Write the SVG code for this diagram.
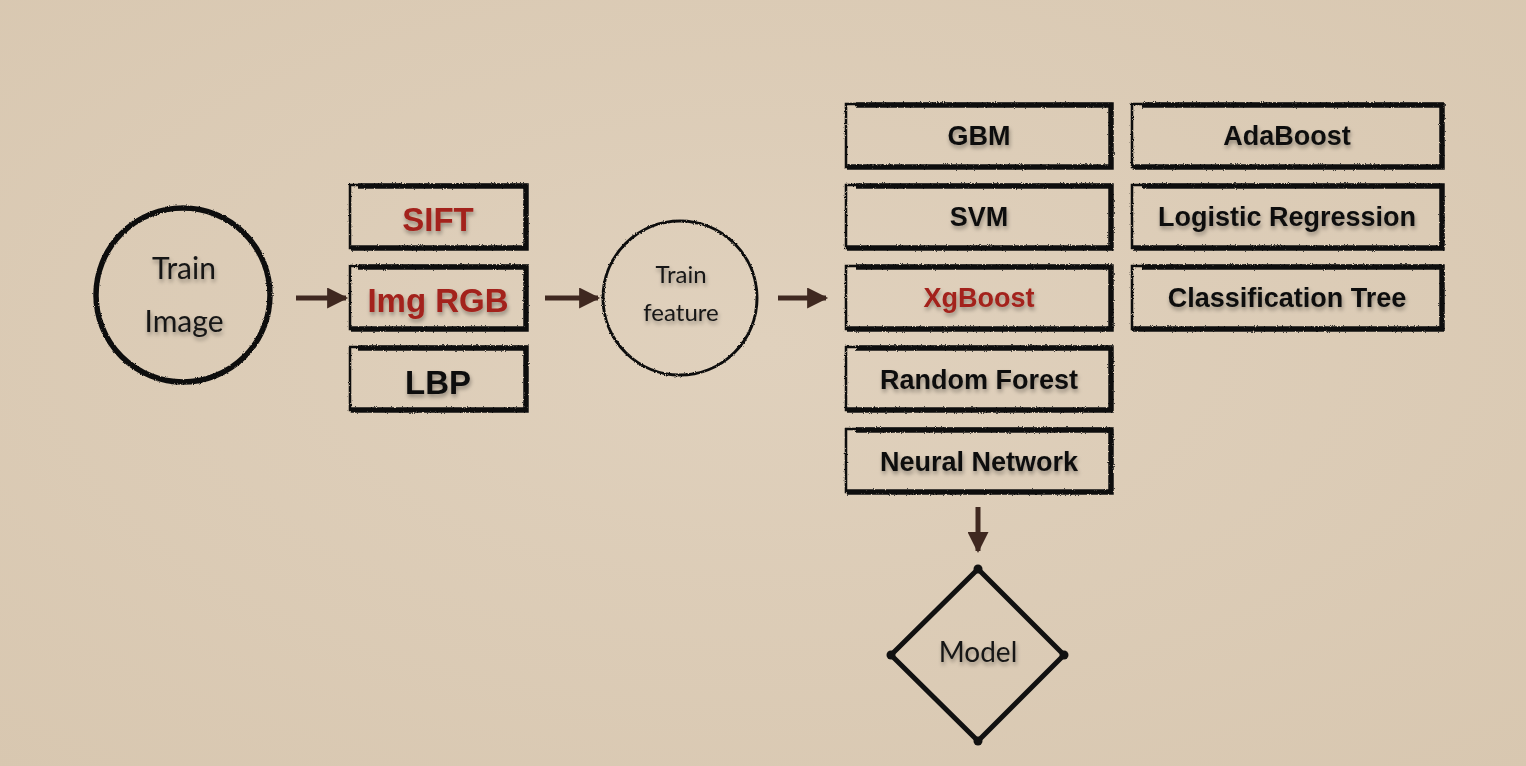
<svg xmlns="http://www.w3.org/2000/svg" width="1526" height="766" viewBox="0 0 1526 766">
<defs>
<filter id="sh" x="-20%" y="-40%" width="140%" height="180%">
<feGaussianBlur in="SourceAlpha" stdDeviation="2"/>
<feOffset dx="1" dy="3" result="b"/>
<feComponentTransfer><feFuncA type="linear" slope="0.35"/></feComponentTransfer>
<feMerge><feMergeNode/><feMergeNode in="SourceGraphic"/></feMerge>
</filter>
<filter id="rough" x="-5%" y="-5%" width="110%" height="110%">
<feTurbulence type="fractalNoise" baseFrequency="0.9" numOctaves="2" seed="3"/>
<feDisplacementMap in="SourceGraphic" scale="2.5" xChannelSelector="R" yChannelSelector="G"/>
</filter>
<radialGradient id="bg" cx="50%" cy="45%" r="75%">
<stop offset="0" stop-color="#e0d1bd"/>
<stop offset="1" stop-color="#d8c7b0"/>
</radialGradient>
<marker id="ah" viewBox="0 0 10 10" refX="9" refY="5" markerWidth="4.4" markerHeight="4.2" orient="auto" markerUnits="strokeWidth">
<path d="M0,0 L10,5 L0,10 z" fill="#3f2820"/>
</marker>
</defs>
<style>
.box{fill:none;stroke:#111;stroke-width:2.5;filter:url(#rough)}
.edge{fill:none;stroke:#0d0d0d;stroke-width:5.5;filter:url(#rough)}
.lbl{font-family:"Liberation Sans",Arial,sans-serif;font-weight:bold;font-size:27px;text-anchor:middle;fill:#111;filter:url(#sh)}
.big{font-size:33px}
.red{fill:#a3221b}
.hand{font-family:Lato,"Open Sans",sans-serif;font-weight:400;text-anchor:middle;fill:#161616;filter:url(#sh)}
.conn{stroke:#3f2820;stroke-width:5;fill:none;marker-end:url(#ah)}
</style>
<rect width="1526" height="766" fill="url(#bg)"/>

<g id="train-image">
<circle cx="183" cy="295" r="87" fill="none" stroke="#111" stroke-width="5.5" filter="url(#rough)"/>
<text class="hand" x="184" y="279" font-size="30">Train</text>
<text class="hand" x="184" y="332" font-size="30">Image</text>
</g>

<g id="sift">
<rect class="box" x="350" y="185" width="176" height="63"/>
<path class="edge" d="M358,186 H526 V248 H351"/>
<text class="lbl big red" x="438" y="231">SIFT</text>
</g>
<g id="img-rgb">
<rect class="box" x="350" y="266" width="176" height="63"/>
<path class="edge" d="M358,267 H526 V329 H351"/>
<text class="lbl big red" x="438" y="312">Img RGB</text>
</g>
<g id="lbp">
<rect class="box" x="350" y="347" width="176" height="63"/>
<path class="edge" d="M358,348 H526 V410 H351"/>
<text class="lbl big" x="438" y="394">LBP</text>
</g>

<g id="train-feature">
<circle cx="680" cy="298" r="77" fill="none" stroke="#111" stroke-width="3" filter="url(#rough)"/>
<text class="hand" x="681" y="283" font-size="24">Train</text>
<text class="hand" x="681" y="321" font-size="24">feature</text>
</g>

<g id="gbm">
<rect class="box" x="846" y="104" width="265" height="63"/>
<path class="edge" d="M856,105 H1111 V167 H847"/>
<text class="lbl" x="979" y="145">GBM</text>
</g>
<g id="svm">
<rect class="box" x="846" y="185" width="265" height="63"/>
<path class="edge" d="M856,186 H1111 V248 H847"/>
<text class="lbl" x="979" y="226">SVM</text>
</g>
<g id="xgboost">
<rect class="box" x="846" y="266" width="265" height="63"/>
<path class="edge" d="M856,267 H1111 V329 H847"/>
<text class="lbl red" x="979" y="307">XgBoost</text>
</g>
<g id="random-forest">
<rect class="box" x="846" y="347" width="265" height="63"/>
<path class="edge" d="M856,348 H1111 V410 H847"/>
<text class="lbl" x="979" y="389">Random Forest</text>
</g>
<g id="neural-network">
<rect class="box" x="846" y="429" width="265" height="63"/>
<path class="edge" d="M856,430 H1111 V492 H847"/>
<text class="lbl" x="979" y="471">Neural Network</text>
</g>

<g id="adaboost">
<rect class="box" x="1132" y="104" width="310" height="63"/>
<path class="edge" d="M1142,105 H1442 V167 H1133"/>
<text class="lbl" x="1287" y="145">AdaBoost</text>
</g>
<g id="logistic-regression">
<rect class="box" x="1132" y="185" width="310" height="63"/>
<path class="edge" d="M1142,186 H1442 V248 H1133"/>
<text class="lbl" x="1287" y="226">Logistic Regression</text>
</g>
<g id="classification-tree">
<rect class="box" x="1132" y="266" width="310" height="63"/>
<path class="edge" d="M1142,267 H1442 V329 H1133"/>
<text class="lbl" x="1287" y="307">Classification Tree</text>
</g>

<g id="model">
<path d="M978,569 L1064,655 L978,741 L891,655 Z" fill="none" stroke="#111" stroke-width="5" stroke-linejoin="round"/>
<circle cx="978" cy="569" r="4.5" fill="#111"/>
<circle cx="1064" cy="655" r="4.5" fill="#111"/>
<circle cx="978" cy="741" r="4.5" fill="#111"/>
<circle cx="891" cy="655" r="4.5" fill="#111"/>
<text class="hand" x="978" y="662" font-size="28">Model</text>
</g>

<g id="connectors">
<line class="conn" x1="296" y1="298" x2="346" y2="298"/>
<line class="conn" x1="545" y1="298" x2="598" y2="298"/>
<line class="conn" x1="778" y1="298" x2="826" y2="298"/>
<line class="conn" x1="978" y1="507" x2="978" y2="551"/>
</g>
</svg>
